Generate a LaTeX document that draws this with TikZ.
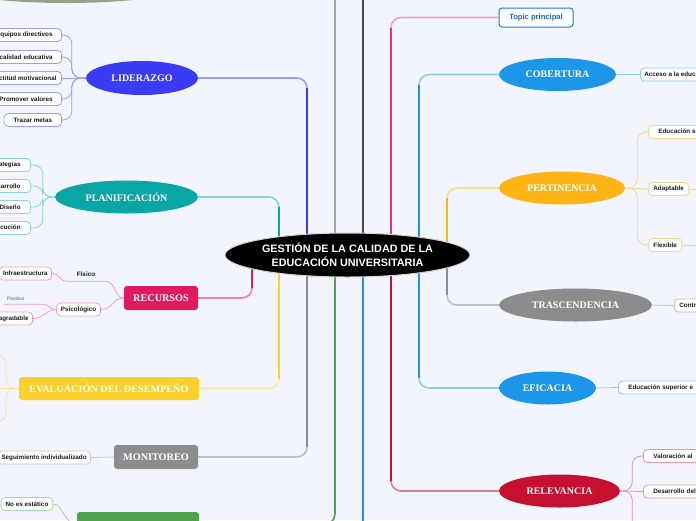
\documentclass[tikz,border=0pt]{standalone}
\usepackage{fontspec}
\setmainfont{Liberation Sans}
\newfontfamily\mySerif{Liberation Serif}
\usetikzlibrary{shapes.geometric,calc}
\definecolor{bgc}{HTML}{F2F5FE}
\definecolor{txt}{HTML}{1A1A1A}
\definecolor{lidc}{HTML}{3B3BF3}\definecolor{lidl}{HTML}{9D9DF7}
\definecolor{planc}{HTML}{0AA6A6}\definecolor{planl}{HTML}{8ED5D8}
\definecolor{recc}{HTML}{E3195F}\definecolor{recl}{HTML}{F3A0BE}
\definecolor{evac}{HTML}{FBD02A}\definecolor{eval}{HTML}{FCE49C}
\definecolor{monc}{HTML}{8D8D8F}\definecolor{monl}{HTML}{C9C9CB}
\definecolor{grnc}{HTML}{4FA14B}\definecolor{grnl}{HTML}{A9D6A6}
\definecolor{topg}{HTML}{A3A99C}\definecolor{topf}{HTML}{98A08C}
\definecolor{darkl}{HTML}{4B4B4B}
\definecolor{cobc}{HTML}{1C96E8}\definecolor{cobl}{HTML}{93CAF2}
\definecolor{perc}{HTML}{FDB516}\definecolor{perl}{HTML}{FCD58C}
\definecolor{trac}{HTML}{8C8C8E}\definecolor{tral}{HTML}{C2C2C4}
\definecolor{relc}{HTML}{C5112F}\definecolor{rell}{HTML}{E59AA8}
\definecolor{tpc}{HTML}{E5336D}\definecolor{tpb}{HTML}{1C7DE0}\definecolor{tpt}{HTML}{1769D4}
\pgfdeclarelayer{bgl}\pgfdeclarelayer{conl}\pgfsetlayers{bgl,conl,main}
\tikzset{
 topic/.style={ellipse, inner sep=0pt, text=white, font=\mySerif\bfseries\fontsize{10}{12}\selectfont},
 topicbox/.style={rectangle, rounded corners=3pt, inner sep=0pt, text=white, font=\mySerif\bfseries\fontsize{10.2}{12}\selectfont},
 leaf/.style={draw, fill=white, rounded corners=4pt, line width=0.8pt, inner xsep=5pt, inner ysep=0pt, minimum height=13pt, font=\bfseries\fontsize{6.3}{7}\selectfont, text=txt},
 cutl/.style={text width=#1, align=right},
 cutr/.style={text width=#1, align=left},
 trunk/.style={line width=1.6pt, rounded corners=10pt},
 twig/.style={line width=0.8pt},
 brk/.style={line width=0.8pt, rounded corners=9pt},
}
\begin{document}
\begin{tikzpicture}[x=1pt,y=-1pt]
\useasboundingbox (0,0) rectangle (696,520);
\begin{pgfonlayer}{bgl}
\fill[bgc] (0,0) rectangle (696,520);
\end{pgfonlayer}

% central topic
\node[ellipse, fill=black, draw=gray!35, line width=1pt, minimum width=245, minimum height=44, inner sep=0pt, text=white, align=center, font=\bfseries\fontsize{10.8}{14}\selectfont] (c) at (347.5,255) {GESTIÓN DE LA CALIDAD DE LA\\EDUCACIÓN UNIVERSITARIA};

% main topics, left
\node[ellipse, fill=topf, minimum width=236, minimum height=34, inner sep=0pt] (topn) at (66,-14) {};
\node[topic, fill=lidc, minimum width=112, minimum height=34] (lid) at (142,78) {LIDERAZGO};
\node[topic, fill=planc, minimum width=143, minimum height=33] (plan) at (126.5,197) {PLANIFICACIÓN};
\node[topicbox, fill=recc, minimum width=74, minimum height=24] (rec) at (161,298) {RECURSOS};
\node[topicbox, fill=evac, minimum width=180, minimum height=23] (eva) at (109,388.5) {EVALUACIÓN DEL DESEMPEÑO};
\node[topicbox, fill=monc, minimum width=84, minimum height=24] (mon) at (156,457) {MONITOREO};
\node[topicbox, fill=grnc, minimum width=122, minimum height=24] (grn) at (138,524) {};

% main topics, right
\node[draw=tpb, fill=white, line width=1pt, rounded corners=3pt, minimum width=74, minimum height=19, inner sep=0pt, font=\bfseries\fontsize{7.6}{9}\selectfont, text=tpt] (tp) at (536,17.5) {Topic principal};
\node[topic, fill=cobc, minimum width=117, minimum height=33] (cob) at (557.5,74.5) {COBERTURA};
\node[topic, fill=perc, minimum width=126, minimum height=33] (per) at (562,188) {PERTINENCIA};
\node[topic, fill=trac, minimum width=153, minimum height=33] (tra) at (575.5,305) {TRASCENDENCIA};
\node[topic, fill=cobc, minimum width=97, minimum height=33] (efi) at (547.5,388) {EFICACIA};
\node[topic, fill=relc, minimum width=121, minimum height=33] (rel) at (559.5,491) {RELEVANCIA};

% leaves LIDERAZGO
\node[leaf, draw=lidl, inner xsep=9pt, anchor=east] (l1) at (62,35) {Equipos directivos};
\node[leaf, draw=lidl, inner xsep=9pt, anchor=east, cutl=72pt] (l2) at (62,57) {calidad educativa};
\node[leaf, draw=lidl, inner xsep=5pt, anchor=east] (l3) at (62,78) {Actitud motivacional};
\node[leaf, draw=lidl, inner xsep=9pt, anchor=east] (l4) at (62,99) {Promover valores};
\node[leaf, draw=lidl, inner xsep=9.5pt, anchor=east] (l5) at (62,120) {Trazar metas};
% leaves PLANIFICACION
\node[leaf, draw=planl, inner xsep=10pt, anchor=east] (p1) at (31,165) {Estrategias};
\node[leaf, draw=planl, inner xsep=10pt, anchor=east] (p2) at (31,186) {Desarrollo};
\node[leaf, draw=planl, inner xsep=10pt, anchor=east, cutl=40pt] (p3) at (31,207) {Diseño};
\node[leaf, draw=planl, inner xsep=10pt, anchor=east] (p4) at (31,228) {Ejecución};
% leaves RECURSOS
\node[leaf, draw=recl, inner xsep=4pt, anchor=east] (inf) at (52,273.5) {Infraestructura};
\node[inner sep=0pt, minimum width=38, minimum height=14, font=\bfseries\fontsize{6.3}{7}\selectfont, text=txt] (fis) at (86,274) {Físico};
\node[leaf, draw=recl, inner xsep=4.3pt, anchor=east] (psi) at (101,309.5) {Psicológico};
\node[inner xsep=3pt, inner ysep=0pt, text width=33pt, align=left, minimum height=10, font=\fontsize{5}{6}\selectfont, text=black!60] (pos) at (23.5,299) {Positivo};
\node[leaf, draw=recl, inner xsep=4pt, anchor=east, cutl=50pt] (des) at (33,318.5) {agradable};
% EVALUACION free ends
\coordinate (ev1) at (-10,355);
\coordinate (ev2) at (-10,388.5);
\coordinate (ev3) at (-10,422);
% MONITOREO leaf
\node[leaf, draw=monl, inner xsep=4pt, anchor=east] (seg) at (91,457.5) {Seguimiento individualizado};
% green leaf
\node[leaf, draw=grnl, inner xsep=4.5pt] (ne) at (27,504) {No es estático};

% right leaves
\node[leaf, draw=cobl, inner xsep=4pt, anchor=west] (acc) at (640,74.5) {Acceso a la educación};
\node[leaf, draw=perl, inner xsep=10pt, anchor=west] (edu) at (648,132) {Educación superior};
\node[leaf, draw=perl, inner xsep=5pt, anchor=west] (ada) at (648,189) {Adaptable};
\node[leaf, draw=perl, inner xsep=5pt, anchor=west] (flx) at (648,245) {Flexible};
\node[leaf, draw=tral, inner xsep=5pt, anchor=west, cutr=40pt] (ctr) at (674,305.5) {Contr};
\node[leaf, draw=cobl, inner xsep=10pt, anchor=west, cutr=80pt] (eds) at (618,387.5) {Educación superior e};
\node[leaf, draw=rell, inner xsep=10pt, anchor=west, cutr=60pt] (val) at (643,456) {Valoración al};
\node[leaf, draw=rell, inner xsep=10pt, anchor=west, cutr=60pt] (dsd) at (643,491.5) {Desarrollo del};
\coordinate (adaR) at (700,189);
\coordinate (flxR) at (700,245);
\coordinate (rel3) at (643,545);
\coordinate (upR) at (363,-20);
\coordinate (dnR) at (363,540);

% trunk x positions
\coordinate (xl0) at ($(c.center)+(-12.5,0)$);
\coordinate (xl1) at ($(c.center)+(-40.5,0)$);
\coordinate (xl2) at ($(c.center)+(-68.5,0)$);
\coordinate (xl3) at ($(c.center)+(-95.5,0)$);
\coordinate (xr0) at ($(c.center)+(15.5,0)$);
\coordinate (xr1) at ($(c.center)+(43.5,0)$);
\coordinate (xr2) at ($(c.center)+(71.5,0)$);
\coordinate (xr3) at ($(c.center)+(99.5,0)$);

\begin{pgfonlayer}{conl}
% trunks left
\draw[trunk,topg] (topn.east) -| (xl0);
\draw[trunk,lidc!50] (lid.east) -| (xl1);
\draw[trunk,lidc] ($(xl1 |- lid.east)+(0,10)$) -- (xl1);
\draw[trunk,planc!50] (plan.east) -| (xl2);
\draw[trunk,planc] ($(xl2 |- plan.east)+(0,10)$) -- (xl2);
\draw[trunk,recc!55] (rec.east) -| (xl3);
\draw[trunk,recc] ($(xl3 |- rec.east)+(0,-10)$) -- (xl3);
\draw[trunk,evac!45] (eva.east) -| (xl2);
\draw[trunk,evac] ($(xl2 |- eva.east)+(0,-10)$) -- (xl2);
\draw[trunk,monc!55] (mon.east) -| (xl1);
\draw[trunk,monc] ($(xl1 |- mon.east)+(0,-10)$) -- (xl1);
\draw[trunk,grnc] (grn.east) -| (xl0);
% trunks right
\draw[trunk,darkl] (upR) -- (xr0);
\draw[trunk,cobc] (dnR) -- (xr0);
\draw[trunk,tpc!45] (tp.west) -| (xr1);
\draw[trunk,tpc] ($(xr1 |- tp.west)+(0,10)$) -- (xr1);
\draw[trunk,cobc!50] (cob.west) -| (xr2);
\draw[trunk,cobc] ($(xr2 |- cob.west)+(0,10)$) -- (xr2);
\draw[trunk,perc!50] (per.west) -| (xr3);
\draw[trunk,perc] ($(xr3 |- per.west)+(0,10)$) -- (xr3);
\draw[trunk,trac!55] (tra.west) -| (xr3);
\draw[trunk,trac] ($(xr3 |- tra.west)+(0,-10)$) -- (xr3);
\draw[trunk,cobc!50] (efi.west) -| (xr2);
\draw[trunk,cobc] ($(xr2 |- efi.west)+(0,-10)$) -- (xr2);
\draw[trunk,relc!55] (rel.west) -| (xr1);
\draw[trunk,relc] ($(xr1 |- rel.west)+(0,-10)$) -- (xr1);

% twigs LIDERAZGO
\coordinate (jl) at ($(lid.west)+(-14,0)$);
\foreach \n in {l1,l2,l4,l5} \draw[brk,lidl] (lid.west) -- (jl) |- (\n.east);
\draw[twig,lidl] (lid.west) -- (l3.east);
% twigs PLANIFICACION
\coordinate (jp) at ($(plan.west)+(-12,0)$);
\foreach \n in {p1,p2,p3,p4} \draw[brk,planl] (plan.west) -- (jp) |- (\n.east);
% twigs RECURSOS
\draw[twig,recl] (rec.west) .. controls (114,298) and (116,281) .. (fis.south east) -- (fis.south west) .. controls (59,281) and (60,273.5) .. (inf.east);
\draw[twig,recl] (rec.west) .. controls (112,298) and (113,309.5) .. (psi.east);
\draw[twig,recl] (psi.west) .. controls (48,309.5) and (50,304) .. (pos.south east) -- (pos.south west);
\draw[twig,recl] (psi.west) .. controls (46,309.5) and (44,318.5) .. (des.east);
% twigs EVALUACION
\draw[brk,eval] (eva.west) -- (6,388.5) |- (ev1);
\draw[twig,eval] (eva.west) -- (ev2);
\draw[brk,eval] (eva.west) -- (6,388.5) |- (ev3);
% MONITOREO, green
\draw[twig,monl] (mon.west) -- (seg.east);
\draw[twig,grnl] (ne.east) .. controls (63,504) and (64,524) .. (grn.west);
% right twigs
\draw[twig,cobl] (cob.east) -- (acc.west);
\coordinate (jper) at ($(per.east)+(12,0)$);
\draw[brk,perl] (per.east) -- (jper) |- (edu.west);
\draw[twig,perl] (per.east) -- (ada.west);
\draw[brk,perl] (per.east) -- (jper) |- (flx.west);
\draw[twig,perl] (ada.east) -- (adaR);
\draw[twig,perl] (flx.east) -- (flxR);
\draw[twig,tral] (tra.east) -- (ctr.west);
\draw[twig,cobl] (efi.east) -- (eds.west);
\coordinate (jrel) at ($(rel.east)+(12,0)$);
\draw[brk,rell] (rel.east) -- (jrel) |- (val.west);
\draw[twig,rell] (rel.east) -- (dsd.west);
\draw[brk,rell] (rel.east) -- (jrel) |- (rel3);
\end{pgfonlayer}
\end{tikzpicture}
\end{document}
